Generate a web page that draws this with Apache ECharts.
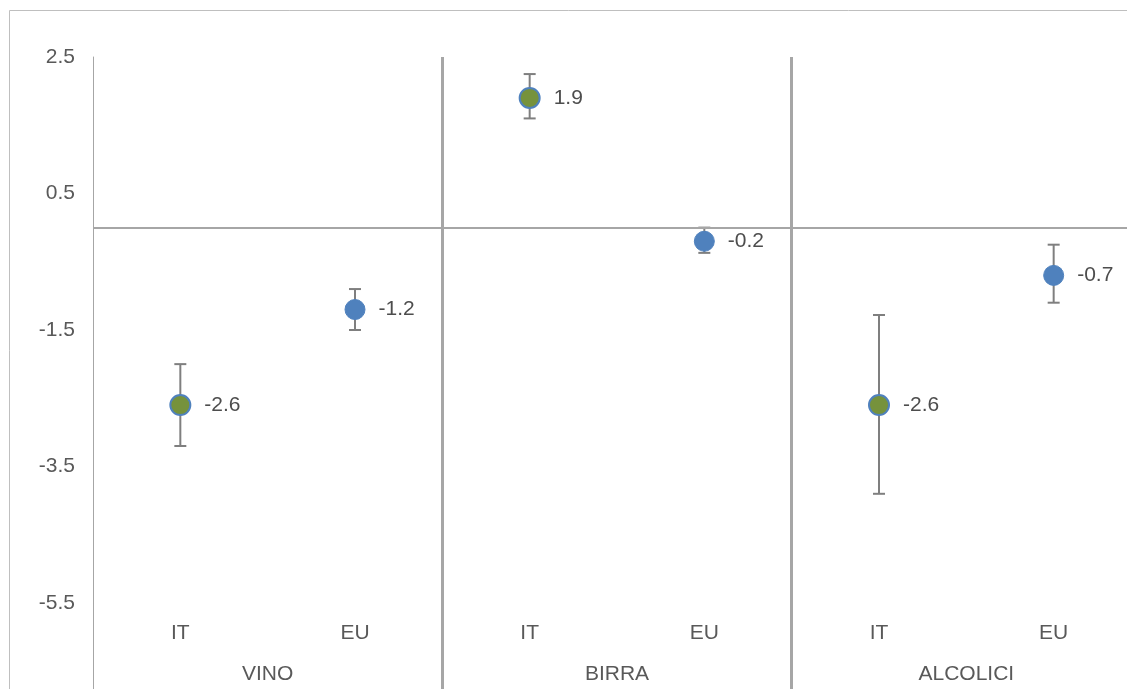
<!DOCTYPE html>
<html>
<head>
<meta charset="utf-8">
<script src="https://cdn.jsdelivr.net/npm/echarts@6/dist/echarts.min.js"></script>
<style>
  html, body { margin: 0; padding: 0; background: #fff; }
  #chart { width: 1127px; height: 689px; }
</style>
</head>
<body>
<div id="chart"></div>
<script>
  // categorie e valori
  const subCats = ['IT', 'EU', 'IT', 'EU', 'IT', 'EU'];
  const groups = ['VINO', 'BIRRA', 'ALCOLICI'];
  const values = [-2.6, -1.2, 1.9, -0.2, -2.6, -0.7];
  const errLow = [-3.2, -1.5, 1.6, -0.37, -3.9, -1.1];
  const errHigh = [-2.0, -0.9, 2.25, 0.0, -1.28, -0.25];
  const yTicks = { min: -5.5, max: 2.5, step: 2 };

  const gray = '#a6a6a6';
  const textColor = '#595959';
  const font = '"Liberation Sans", Arial, sans-serif';
  const fontSize = 21;

  const myChart = echarts.init(document.getElementById('chart'));

  const pointData = values.map((v, i) => ({
    value: v,
    itemStyle: subCats[i] === 'IT'
      ? { color: '#76923c', borderColor: '#4f81bd', borderWidth: 2, opacity: 1 }
      : { color: '#4f81bd', borderColor: '#4f81bd', borderWidth: 1, opacity: 1 }
  }));

  const errData = values.map((v, i) => [i, errLow[i], errHigh[i]]);

  const option = {
    animation: false,
    textStyle: { fontFamily: font },
    graphic: [{
      type: 'rect',
      silent: true,
      shape: { x: 9.5, y: 10.5, width: 1300, height: 900 },
      style: { fill: 'none', stroke: '#bfbfbf', lineWidth: 1 }
    }],
    grid: {
      left: 93, width: 1048, top: 57, bottom: 86,
      containLabel: false, outerBoundsMode: 'none'
    },
    xAxis: [{
      type: 'category',
      data: subCats,
      axisLine: { show: false },
      axisTick: {
        show: true,
        interval: function (index) { return index % 2 === 0; },
        length: 86,
        lineStyle: { color: gray, width: 1 }
      },
      axisLabel: { color: textColor, fontSize: fontSize, margin: 20, fontFamily: font },
      splitLine: { show: false }
    }, {
      type: 'category',
      data: groups,
      position: 'bottom',
      axisLine: { show: false },
      axisTick: {
        show: true,
        interval: function (index) { return index !== 0; },
        length: 86,
        lineStyle: { color: gray, width: 3 }
      },
      axisLabel: { color: textColor, fontSize: fontSize, margin: 61, fontFamily: font },
      splitLine: {
        show: true,
        interval: function (index) { return index !== 0; },
        lineStyle: { color: gray, width: 3 }
      }
    }],
    yAxis: {
      type: 'value',
      min: yTicks.min,
      max: yTicks.max,
      interval: yTicks.step,
      axisLine: { show: true, lineStyle: { color: gray, width: 1 } },
      axisTick: { show: false },
      splitLine: { show: false },
      axisLabel: {
        color: textColor,
        fontSize: fontSize,
        margin: 18,
        fontFamily: font,
        formatter: v => v.toFixed(1)
      }
    },
    series: [{
      name: 'errore',
      type: 'custom',
      xAxisIndex: 0,
      z: 2,
      silent: true,
      renderItem: function (params, api) {
        const x = api.coord([api.value(0), api.value(1)])[0];
        const yLow = api.coord([api.value(0), api.value(1)])[1];
        const yHigh = api.coord([api.value(0), api.value(2)])[1];
        const cap = 6;
        const style = { stroke: '#7f7f7f', lineWidth: 2 };
        return {
          type: 'group',
          children: [
            { type: 'line', shape: { x1: x, y1: yLow, x2: x, y2: yHigh }, style: style },
            { type: 'line', shape: { x1: x - cap, y1: yLow, x2: x + cap, y2: yLow }, style: style },
            { type: 'line', shape: { x1: x - cap, y1: yHigh, x2: x + cap, y2: yHigh }, style: style }
          ]
        };
      },
      encode: { x: 0, y: [1, 2] },
      data: errData
    }, {
      name: 'valore',
      type: 'scatter',
      xAxisIndex: 0,
      z: 3,
      symbol: 'circle',
      symbolSize: 20,
      itemStyle: { opacity: 1 },
      label: {
        show: true,
        position: 'right',
        distance: 13,
        color: '#4d4d4d',
        fontSize: fontSize,
        fontFamily: font,
        formatter: p => p.value.toFixed(1)
      },
      markLine: {
        silent: true,
        symbol: 'none',
        label: { show: false },
        lineStyle: { color: gray, width: 2, type: 'solid' },
        data: [{ yAxis: 0 }]
      },
      data: pointData
    }]
  };

  myChart.setOption(option);

  // prolunga l'asse verticale sinistro fino al fondo, come nelle etichette a due livelli
  const axisBottom = myChart.convertToPixel({ yAxisIndex: 0 }, yTicks.min);
  const axisLeft = myChart.convertToPixel({ xAxisIndex: 0 }, 0) -
    (myChart.convertToPixel({ xAxisIndex: 0 }, 1) - myChart.convertToPixel({ xAxisIndex: 0 }, 0)) / 2;
  myChart.setOption({
    graphic: [{}, {
      type: 'line',
      silent: true,
      shape: { x1: Math.round(axisLeft) + 0.5, y1: axisBottom, x2: Math.round(axisLeft) + 0.5, y2: 689 },
      style: { stroke: gray, lineWidth: 1 }
    }]
  });
</script>
</body>
</html>
